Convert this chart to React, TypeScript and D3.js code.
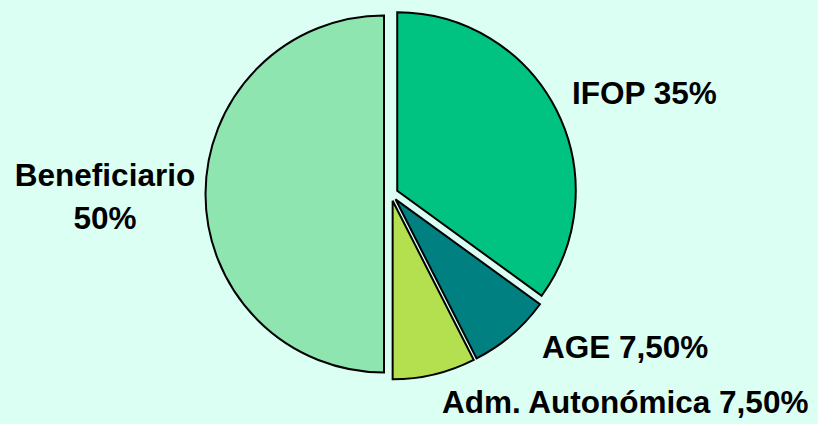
import React from "react";
import * as d3 from "d3";

const categories = ["IFOP", "AGE", "Adm. Autonómica", "Beneficiario"];
const values = [35, 7.5, 7.5, 50];
const labelLines = [["IFOP 35%"], ["AGE 7,50%"], ["Adm. Autonómica 7,50%"], ["Beneficiario", "50%"]];
const colors = ["#00c281", "#008080", "#b4e050", "#8ee5b0"];

const W = 818;
const H = 424;
const cx = 391;
const cy = 194;
const R = 178.5;
const explode = 7;

// label anchor positions (layout)
const labelPos = [
  { x: 572, y: 104, anchor: "start" },
  { x: 542, y: 358, anchor: "start" },
  { x: 442, y: 413, anchor: "start" },
  { x: 105, y: 186, anchor: "middle" },
];

export default function App() {
  const pie = d3
    .pie<number>()
    .sort(null)
    .value((d) => d)
    .startAngle(0)
    .endAngle(2 * Math.PI);
  const arcs = pie(values);
  const arc = d3.arc<d3.PieArcDatum<number>>().innerRadius(0).outerRadius(R);

  return (
    <svg
      width={W}
      height={H}
      style={{ position: "absolute", left: 0, top: 0, display: "block" }}
      fontFamily="'Liberation Sans', Arial, sans-serif"
    >
      <rect x={0} y={0} width={W} height={H} fill="#dcfff4" />
      {arcs.map((a, i) => {
        const mid = (a.startAngle + a.endAngle) / 2;
        const dx = Math.sin(mid) * explode;
        const dy = -Math.cos(mid) * explode;
        return (
          <path
            key={categories[i]}
            d={arc(a) || ""}
            transform={`translate(${cx + dx},${cy + dy})`}
            fill={colors[i]}
            stroke="#000"
            strokeWidth={2}
            strokeLinejoin="miter"
          />
        );
      })}
      {labelLines.map((lines, i) => (
        <text
          key={"l" + i}
          x={labelPos[i].x}
          y={labelPos[i].y}
          textAnchor={labelPos[i].anchor as any}
          fontSize={31.5}
          fontWeight="bold"
          fill="#000"
        >
          {lines.map((t, j) => (
            <tspan key={j} x={labelPos[i].x} dy={j === 0 ? 0 : 43}>
              {t}
            </tspan>
          ))}
        </text>
      ))}
    </svg>
  );
}
